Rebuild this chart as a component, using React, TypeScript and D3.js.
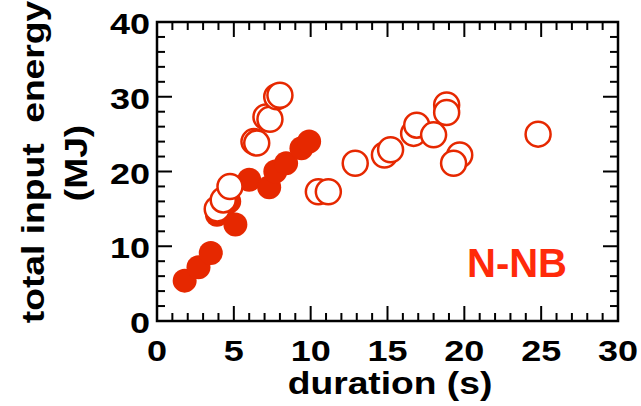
import React from "react";
import * as d3 from "d3";

const xTickLabels = [0, 5, 10, 15, 20, 25, 30];
const yTickLabels = [0, 10, 20, 30, 40];

const filledDuration = [1.8, 2.7, 3.5, 3.9, 4.3, 4.7, 5.1, 6.0, 7.3, 7.7, 8.4, 9.4, 9.9];
const filledEnergy = [5.4, 7.2, 9.1, 14.2, 15.0, 16.0, 12.9, 18.9, 17.9, 20.0, 21.1, 23.1, 24.0];

const openDuration = [3.92, 4.31, 4.75, 6.31, 6.49, 7.09, 7.35, 7.79, 8.0, 10.5, 11.15, 12.9, 14.8, 15.2, 16.7, 16.9, 18.0, 18.85, 18.85, 19.7, 19.3, 24.8];
const openEnergy = [15.0, 16.2, 18.0, 24.0, 23.8, 27.3, 27.0, 30.0, 30.2, 17.3, 17.3, 21.1, 22.2, 22.9, 25.1, 26.2, 24.9, 28.9, 27.9, 22.2, 21.1, 25.0];

const RED = "#e62800";
const FONT = "'Liberation Sans', Arial, Helvetica, sans-serif";
const SX = 1.2;

export default function App() {
  const left = 157, right = 618, top = 22, bottom = 321;
  const x = d3.scaleLinear().domain([0, 30]).range([left, right]);
  const y = d3.scaleLinear().domain([0, 40]).range([bottom, top]);

  const xMinor = d3.range(0, 31, 1);
  const yMinor = d3.range(0, 41, 2);
  const majLen = 15, minLen = 8;

  const filled = filledDuration.map((d, i) => ({ d, e: filledEnergy[i] }));
  const open = openDuration.map((d, i) => ({ d, e: openEnergy[i] }));

  return (
    <svg width={641} height={406} style={{ position: "absolute", left: 0, top: 0, background: "#fff" }}>
      <rect x={0} y={0} width={641} height={406} fill="#fff" />
      {/* ticks */}
      <g stroke="#000" strokeWidth={2}>
        {xMinor.map((t) => {
          const L = t % 5 === 0 ? majLen : minLen;
          return (
            <g key={"xt" + t}>
              <line x1={x(t)} x2={x(t)} y1={bottom} y2={bottom - L} />
              <line x1={x(t)} x2={x(t)} y1={top} y2={top + L} />
            </g>
          );
        })}
        {yMinor.map((t) => {
          const L = t % 10 === 0 ? majLen : minLen;
          return (
            <g key={"yt" + t}>
              <line x1={left} x2={left + L} y1={y(t)} y2={y(t)} />
              <line x1={right} x2={right - L} y1={y(t)} y2={y(t)} />
            </g>
          );
        })}
      </g>
      <rect x={left} y={top} width={right - left} height={bottom - top} fill="none" stroke="#000" strokeWidth={2.5} />

      {/* points */}
      {filled.map((p, i) => (
        <circle key={"f" + i} cx={x(p.d)} cy={y(p.e)} r={12} fill={RED} />
      ))}
      {open.map((p, i) => (
        <circle key={"o" + i} cx={x(p.d)} cy={y(p.e)} r={12.5} fill="#fff" stroke={RED} strokeWidth={2.5} />
      ))}

      {/* tick labels */}
      <g fontFamily={FONT} fontWeight="bold" fontSize={30} fill="#000">
        {xTickLabels.map((t) => (
          <text key={"xl" + t} transform={`translate(${x(t)},361) scale(${SX},1)`} textAnchor="middle">{t}</text>
        ))}
        {yTickLabels.map((t) => (
          <text key={"yl" + t} transform={`translate(150,${y(t) + 12}) scale(${SX},1)`} textAnchor="end">{t}</text>
        ))}
      </g>

      {/* axis titles */}
      <g fontFamily={FONT} fontWeight="bold" fill="#000">
        <text fontSize={31} transform={`translate(390,394) scale(${SX},1)`} textAnchor="middle">duration (s)</text>
        <text fontSize={31} transform={`translate(44,162) rotate(-90) scale(${SX},1)`} textAnchor="middle" style={{ whiteSpace: "pre" }}>{"total input  energy"}</text>
        <text fontSize={31} transform={`translate(87,163) rotate(-90) scale(${SX},1)`} textAnchor="middle">(MJ)</text>
      </g>

      <text x={517} y={277} textAnchor="middle" fontFamily={FONT} fontWeight="bold" fontSize={40} fill="#ff2a0a">N-NB</text>
    </svg>
  );
}
